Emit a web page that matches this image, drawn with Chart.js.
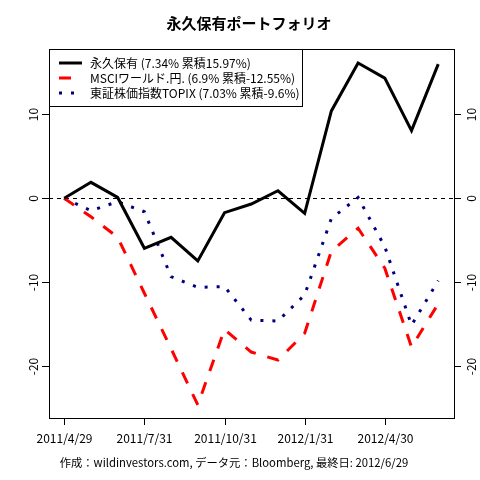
<!DOCTYPE html>
<html>
<head>
<meta charset="utf-8">
<script src="https://cdn.jsdelivr.net/npm/chart.js@4"></script>
<style>
  body { margin: 0; background: #fff; }
  canvas { display: block; }
</style>
</head>
<body>
<canvas id="chart" width="480" height="480"></canvas>
<script>
// ===== data =====
const dates = ['2011/4/29', '2011/5/31', '2011/6/30', '2011/7/31', '2011/8/31',
  '2011/9/30', '2011/10/31', '2011/11/30', '2011/12/31', '2012/1/31',
  '2012/2/29', '2012/3/31', '2012/4/30', '2012/5/31', '2012/6/29'];
const xTickIdx = [0, 3, 6, 9, 12];
const yTicks = [10, 0, -10, -20];

const permanent = [0, 1.9, 0.1, -5.95, -4.64, -7.46, -1.71, -0.68, 0.9, -1.79, 10.4, 16.1, 14.3, 8.05, 15.97];
const msci = [0, -2.2, -4.64, -11.3, -17.9, -24.6, -15.6, -18.3, -19.25, -16.07, -6.3, -3.57, -8.33, -17.7, -12.55];
const topix = [0, -1.47, -0.4, -1.6, -9.33, -10.6, -10.5, -14.5, -14.6, -11.5, -2.4, 0.1, -5.76, -15.1, -9.8];

const seriesNames = [
  '永久保有 (7.34% 累積15.97%)',
  'MSCIワールド.円. (6.9% 累積-12.55%)',
  '東証株価指数TOPIX (7.03% 累積-9.6%)'
];

const title = '永久保有ポートフォリオ';
const footer = '作成：wildinvestors.com, データ元：Bloomberg, 最終日: 2012/6/29';

const FONT = '"Noto Sans CJK JP", "DejaVu Sans", sans-serif';

const styles = [
  { color: '#000000', dash: [] },
  { color: '#ff0000', dash: [12, 12] },
  { color: '#000080', dash: [3, 9] }
];

function toPoints(arr) {
  return arr.map((v, i) => ({ x: i, y: v }));
}

// ===== axes, legend, texts =====
const decor = {
  id: 'decor',
  beforeDatasetsDraw(chart) {
    const { ctx, chartArea: a, scales: { y } } = chart;
    const y0 = Math.round(y.getPixelForValue(0)) + 0.5;
    ctx.save();
    ctx.strokeStyle = '#000';
    ctx.lineWidth = 1;
    ctx.setLineDash([4, 4]);
    ctx.beginPath();
    ctx.moveTo(a.left, y0);
    ctx.lineTo(a.right, y0);
    ctx.stroke();
    ctx.restore();
  },
  afterDraw(chart) {
    const { ctx, chartArea: a, scales: { x, y } } = chart;
    ctx.save();
    ctx.strokeStyle = '#000';
    ctx.fillStyle = '#000';
    ctx.lineWidth = 1;
    ctx.setLineDash([]);

    // box
    ctx.strokeRect(Math.round(a.left) + 0.5, Math.round(a.top) + 0.5,
      Math.round(a.right - a.left), Math.round(a.bottom - a.top));

    // x ticks
    ctx.font = '12px ' + FONT;
    ctx.textAlign = 'center';
    ctx.textBaseline = 'middle';
    xTickIdx.forEach(i => {
      const px = Math.round(x.getPixelForValue(i)) + 0.5;
      ctx.beginPath();
      ctx.moveTo(px, a.bottom);
      ctx.lineTo(px, a.bottom + 7);
      ctx.stroke();
      ctx.fillText(dates[i], px, 438);
    });

    // y ticks, both sides
    yTicks.forEach(v => {
      const py = Math.round(y.getPixelForValue(v)) + 0.5;
      ctx.beginPath();
      ctx.moveTo(a.left - 7, py);
      ctx.lineTo(a.left, py);
      ctx.moveTo(a.right, py);
      ctx.lineTo(a.right + 7, py);
      ctx.stroke();
      [a.left - 16, a.right + 17].forEach(tx => {
        ctx.save();
        ctx.translate(tx, py);
        ctx.rotate(-Math.PI / 2);
        ctx.fillText(String(v), 0, 0);
        ctx.restore();
      });
    });

    // legend
    const lx = Math.round(a.left) + 0.5, ly = Math.round(a.top) + 0.5;
    ctx.fillStyle = '#fff';
    ctx.fillRect(lx, ly, 253, 57);
    ctx.strokeRect(lx, ly, 253, 57);
    const rows = [63, 78, 93];
    ctx.textAlign = 'left';
    seriesNames.forEach((name, i) => {
      ctx.strokeStyle = styles[i].color;
      ctx.lineWidth = 3;
      ctx.setLineDash(styles[i].dash);
      ctx.beginPath();
      ctx.moveTo(59, rows[i]);
      ctx.lineTo(82, rows[i]);
      ctx.stroke();
      ctx.fillStyle = '#000';
      ctx.fillText(name, 90, rows[i]);
    });

    // title + footer
    ctx.textAlign = 'center';
    ctx.font = 'bold 15px ' + FONT;
    ctx.fillText(title, 249, 23);
    ctx.font = '11.3px ' + FONT;
    ctx.fillText(footer, 234, 463);
    ctx.restore();
  }
};

new Chart(document.getElementById('chart'), {
  type: 'line',
  data: {
    datasets: [permanent, msci, topix].map((arr, i) => ({
      label: seriesNames[i],
      data: toPoints(arr),
      borderColor: styles[i].color,
      borderDash: styles[i].dash,
      borderWidth: 3,
      pointRadius: 0,
      tension: 0,
      fill: false
    }))
  },
  options: {
    responsive: false,
    devicePixelRatio: 1,
    animation: false,
    layout: { padding: { left: 49, right: 26, top: 49, bottom: 62 } },
    plugins: {
      legend: { display: false },
      tooltip: { enabled: false }
    },
    scales: {
      x: { type: 'linear', min: -0.57, max: 14.59, display: false },
      y: { type: 'linear', min: -26.15, max: 17.77, display: false }
    }
  },
  plugins: [decor]
});
</script>
</body>
</html>
